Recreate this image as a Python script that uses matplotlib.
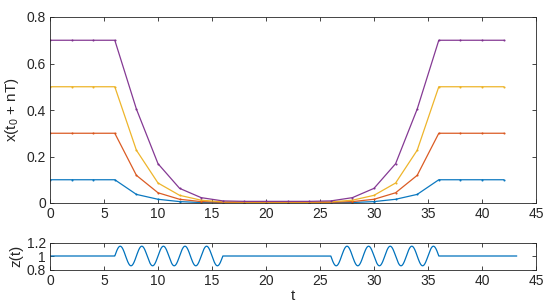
import numpy as np
import matplotlib
matplotlib.use("Agg")
import matplotlib.pyplot as plt

plt.rcParams['font.family'] = ['Liberation Sans', 'DejaVu Sans']
plt.rcParams['mathtext.default'] = 'regular'

# ---- data ----
t_samples = [0, 2, 4, 6, 8, 10, 12, 14, 16, 18, 20, 22, 24, 26, 28, 30, 32, 34, 36, 38, 40, 42]
x_blue   = [0.1, 0.1, 0.1, 0.1, 0.037, 0.016, 0.006, 0.002, 0.0008, 0.0003, 0.0001, 0.0001, 0.0003, 0.0008, 0.002, 0.006, 0.016, 0.037, 0.1, 0.1, 0.1, 0.1]
x_red    = [0.3, 0.3, 0.3, 0.3, 0.119, 0.044, 0.016, 0.006, 0.003, 0.002, 0.002, 0.002, 0.002, 0.003, 0.006, 0.016, 0.044, 0.119, 0.3, 0.3, 0.3, 0.3]
x_yellow = [0.5, 0.5, 0.5, 0.5, 0.227, 0.086, 0.033, 0.012, 0.005, 0.004, 0.004, 0.004, 0.004, 0.005, 0.012, 0.033, 0.086, 0.227, 0.5, 0.5, 0.5, 0.5]
x_purple = [0.7, 0.7, 0.7, 0.7, 0.404, 0.169, 0.063, 0.023, 0.009, 0.007, 0.007, 0.007, 0.007, 0.009, 0.023, 0.063, 0.169, 0.404, 0.7, 0.7, 0.7, 0.7]
series = [x_blue, x_red, x_yellow, x_purple]
colors = ['#0072BD', '#D95319', '#EDB120', '#7E2F8E']

# forcing z(t): oscillation windows (start, end, sign), amplitude, period
z_windows = [(6, 16, 1), (26, 36, -1)]
z_amp = 0.145
z_period = 2.0
t_end = 43.2

xticks = [0, 5, 10, 15, 20, 25, 30, 35, 40, 45]
yticks_main = [0, 0.2, 0.4, 0.6, 0.8]
yticks_z = [0.8, 1, 1.2]

# ---- figure ----
W, H = 559, 305
fig = plt.figure(figsize=(W / 100, H / 100), dpi=100)
ax1 = fig.add_axes([50 / W, 1 - 203 / H, (536 - 50) / W, (203 - 17) / H])
ax2 = fig.add_axes([50 / W, 1 - 269.5 / H, (536 - 50) / W, (269.5 - 242.5) / H])

edge = '#262626'
for ax in (ax1, ax2):
    for s in ax.spines.values():
        s.set_color(edge)
        s.set_linewidth(0.6)
    ax.tick_params(direction='in', top=True, right=True, length=3, width=0.6,
                   colors=edge, labelsize=10, pad=3)

for ys, c in zip(series, colors):
    ax1.plot(t_samples, ys, '-', color=c, lw=0.9, marker='.', markersize=3,
             markeredgewidth=0, alpha=0.95)
ax1.set_xlim(0, 45)
ax1.set_ylim(0, 0.8)
ax1.set_xticks(xticks)
ax1.set_yticks(yticks_main)
ax1.set_yticklabels(['0', '0.2', '0.4', '0.6', '0.8'])
ax1.set_ylabel('x(t$_0$ + nT)', fontsize=11, color=edge, labelpad=4)

t = np.linspace(0, t_end, 4000)
z = np.ones_like(t)
for a, b, sg in z_windows:
    m = (t >= a) & (t <= b)
    z[m] = 1 + sg * z_amp * np.sin(2 * np.pi * (t[m] - a) / z_period)
ax2.plot(t, z, color=colors[0], lw=0.9)
ax2.set_xlim(0, 45)
ax2.set_ylim(0.8, 1.2)
ax2.set_xticks(xticks)
ax2.set_yticks(yticks_z)
ax2.set_yticklabels(['0.8', '1', '1.2'])
ax2.set_ylabel('z(t)', fontsize=11, color=edge, labelpad=2)
ax2.set_xlabel('t', fontsize=11, color=edge, labelpad=1)

fig.savefig('out.png', dpi=100)
